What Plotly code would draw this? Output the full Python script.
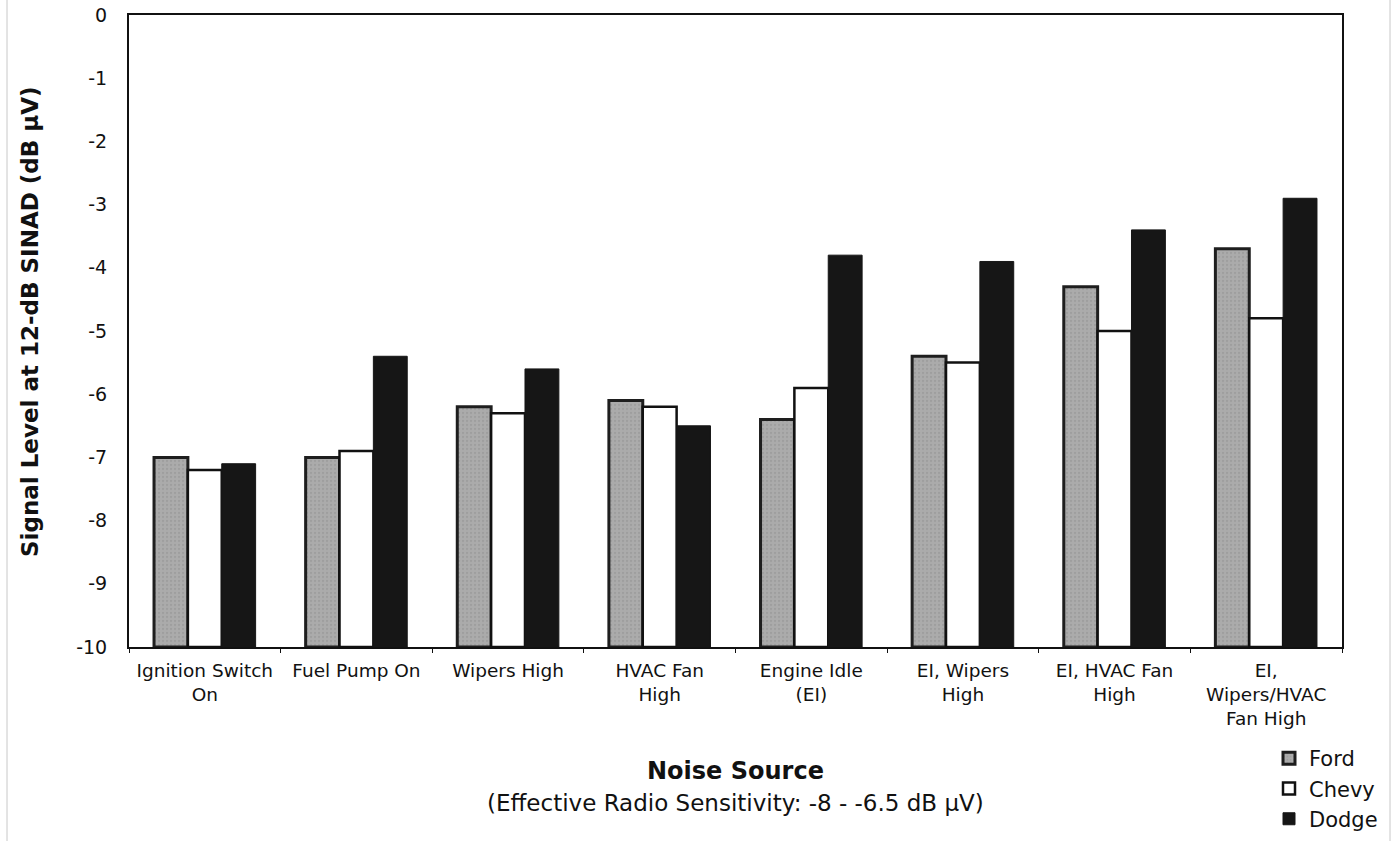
import plotly.graph_objects as go

categories = ["Ignition Switch<br>On", "Fuel Pump On", "Wipers High", "HVAC Fan<br>High",
              "Engine Idle<br>(EI)", "EI, Wipers<br>High", "EI, HVAC Fan<br>High",
              "EI,<br>Wipers/HVAC<br>Fan High"]
ford = [-7.0, -7.0, -6.2, -6.1, -6.4, -5.4, -4.3, -3.7]
chevy = [-7.2, -6.9, -6.3, -6.2, -5.9, -5.5, -5.0, -4.8]
dodge = [-7.1, -5.4, -5.6, -6.5, -3.8, -3.9, -3.4, -2.9]
y_ticks = [0, -1, -2, -3, -4, -5, -6, -7, -8, -9, -10]
AXIS_MIN = -10

FONT = "DejaVu Sans, Liberation Sans, Arial, sans-serif"
TXT = "#111111"

fig = go.Figure()
series = [
    ("Ford", ford, dict(color="#a9a9a9", line=dict(color="#1e1e1e", width=3),
                        pattern=dict(shape=".", bgcolor="#ababab", fgcolor="#8f8f8f",
                                     size=4, solidity=0.25))),
    ("Chevy", chevy, dict(color="#ffffff", line=dict(color="#111111", width=2.5))),
    ("Dodge", dodge, dict(color="#161616", line=dict(color="#161616", width=1))),
]
for name, vals, marker in series:
    fig.add_trace(go.Bar(
        x=categories, y=[v - AXIS_MIN for v in vals], base=AXIS_MIN,
        name=name, marker=marker,
        customdata=vals, hovertemplate="%{x}: %{customdata}<extra>" + name + "</extra>",
    ))

L, R, T, B = 129, 53, 15, 194
W, H = 1395, 841
pw, ph = W - L - R, H - T - B

def px_x(x):
    return (x - L) / pw

def px_y(y):
    return (H - B - y) / ph

fig.update_layout(
    width=W, height=H,
    margin=dict(l=L, r=R, t=T, b=B, autoexpand=False),
    paper_bgcolor="white", plot_bgcolor="white",
    barmode="group", bargap=0.33, bargroupgap=0,
    font=dict(family=FONT, color=TXT, size=18),
    showlegend=True,
    legend=dict(x=px_x(1269), y=px_y(738), xanchor="left", yanchor="top",
                font=dict(size=21, family=FONT, color=TXT),
                itemwidth=30, tracegroupgap=0, bgcolor="rgba(0,0,0,0)",
                itemclick=False),
    xaxis=dict(showline=True, linecolor="#111", linewidth=2, mirror=True,
               ticks="outside", tickson="boundaries", ticklen=4, tickcolor="#111",
               tickfont=dict(size=18.5, family=FONT, color=TXT),
               ticklabelstandoff=6, showgrid=False, automargin=False),
    yaxis=dict(range=[-10, 0], tickvals=y_ticks, ticktext=[str(v) for v in y_ticks],
               showline=True, linecolor="#111", linewidth=2, mirror=True,
               ticks="", showgrid=False, zeroline=False, automargin=False,
               tickfont=dict(size=19, family=FONT, color=TXT),
               ticklabelstandoff=16),
    annotations=[
        dict(text="<b>Signal Level at 12-dB SINAD (dB μV)</b>", xref="paper", yref="paper",
             x=px_x(30), y=px_y(322), textangle=-90, showarrow=False,
             font=dict(size=23, family=FONT, color=TXT), xanchor="center", yanchor="middle"),
        dict(text="<b>Noise Source</b>", xref="paper", yref="paper",
             x=0.5, y=px_y(771), showarrow=False,
             font=dict(size=24, family=FONT, color=TXT), xanchor="center", yanchor="middle"),
        dict(text="(Effective Radio Sensitivity: -8 - -6.5 dB μV)", xref="paper", yref="paper",
             x=0.5, y=px_y(803), showarrow=False,
             font=dict(size=23, family=FONT, color=TXT), xanchor="center", yanchor="middle"),
    ],
    shapes=[
        dict(type="line", xref="paper", yref="paper", x0=px_x(7), x1=px_x(7),
             y0=px_y(0), y1=px_y(841), line=dict(color="#c8c8c8", width=1)),
        dict(type="line", xref="paper", yref="paper", x0=px_x(1390), x1=px_x(1390),
             y0=px_y(0), y1=px_y(841), line=dict(color="#c8c8c8", width=1)),
    ],
)

fig.write_html("out.html")
